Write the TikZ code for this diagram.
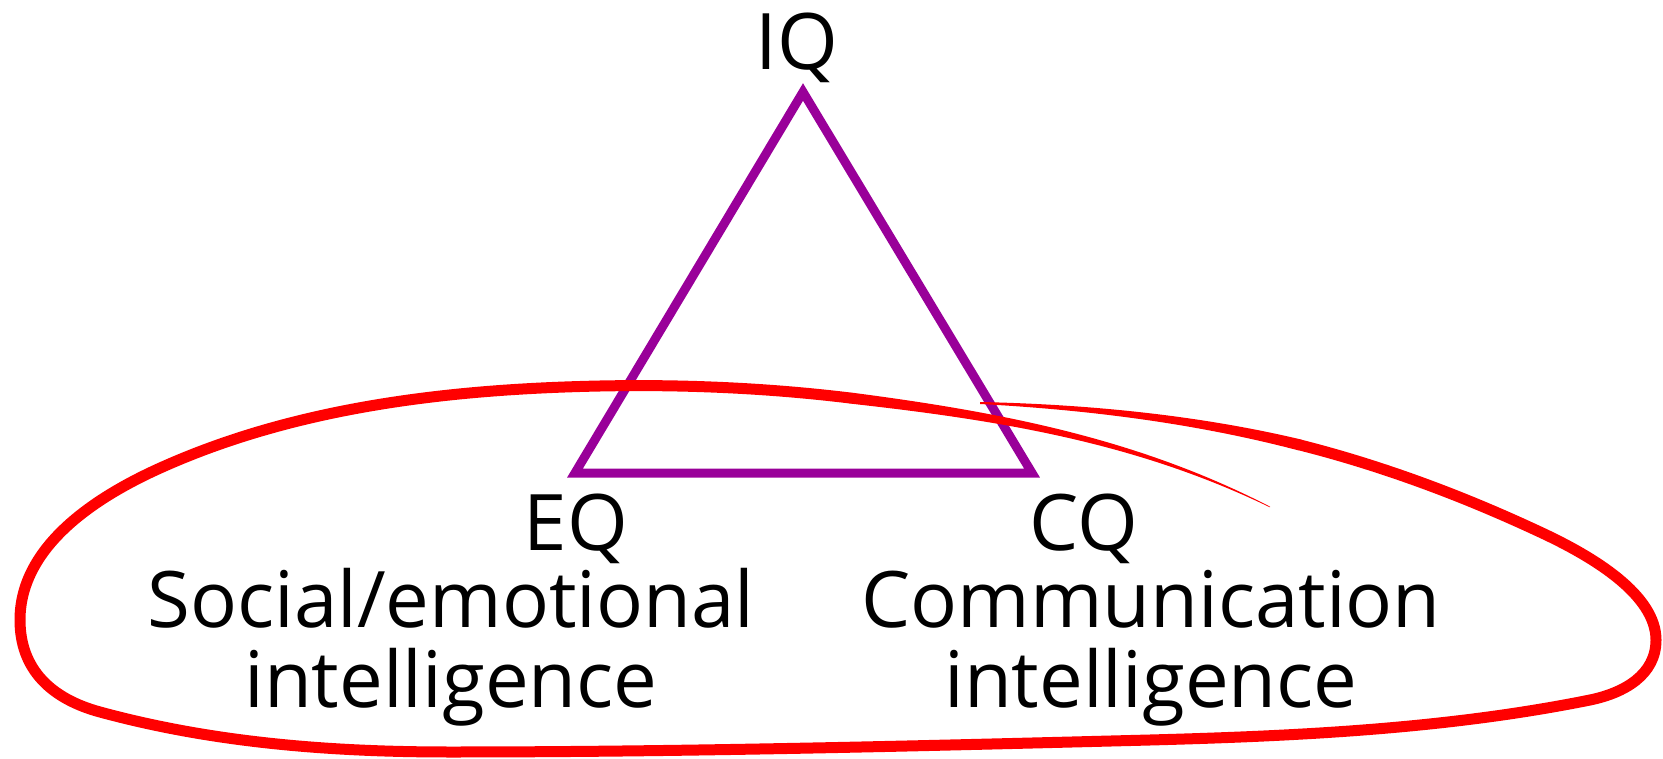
\documentclass[tikz,border=0pt]{standalone}
\usepackage{fontspec}
\setmainfont{Open Sans}
\definecolor{triPurple}{HTML}{990099}
\begin{document}
\begin{tikzpicture}[x=1pt,y=-1pt,
  lbl/.style={font=\fontsize{78}{80}\selectfont, inner sep=0pt, anchor=base, align=center, text=black},
  tri/.style={draw=triPurple, line width=9pt, line join=miter},
  loopline/.style={draw=red, line width=11pt, line cap=round, line join=round},
  taper/.style={fill=red, draw=none}]
\useasboundingbox (0,0) rectangle (1663,759);
% triangle
\coordinate (apex) at (803,92);
\coordinate (bl) at (575,473);
\coordinate (br) at (1032,473);
\draw[tri] (apex) -- (bl) -- (br) -- cycle;
% labels
\node[lbl] (iq) at (797,70) {IQ};
\node[lbl] (eq) at (576,550) {EQ};
\node[lbl] (eqdesc) at (451,707) {Social/emotional\\intelligence};
\node[lbl] (cq) at (1084,550) {CQ};
\node[lbl] (cqdesc) at (1151,707) {Communication\\intelligence};
% red hand-drawn loop: anchor points
\coordinate (A1) at (1300,445);
\coordinate (A2) at (1540,532);
\coordinate (A3) at (1656,640);
\coordinate (A4) at (1590,700);
\coordinate (A5) at (1150,740);
\coordinate (A6) at (450,752);
\coordinate (A7) at (100,712);
\coordinate (A8) at (20,620);
\coordinate (A9) at (167,465);
\coordinate (A10) at (600,386);
\coordinate (A11) at (850,398);
% tapered start stroke
\fill[taper] (980,402) .. controls (1087,404.3) and (1197,414.8) .. (1301.5,439.6)
  -- (1298.5,450.4) .. controls (1195,423.2) and (1087,409.7) .. (980,404) -- cycle;
% main loop
\draw[loopline] (A1) .. controls (1407,472) and (1495,511) .. (A2)
  .. controls (1594,557) and (1656,595) .. (A3)
  .. controls (1656,675) and (1624,693) .. (A4)
  .. controls (1446,729) and (1297,736) .. (A5)
  .. controls (917,746) and (683,752) .. (A6)
  .. controls (332,752) and (214,743) .. (A7)
  .. controls (52,699) and (20,670) .. (A8)
  .. controls (20,545) and (98,495) .. (A9)
  .. controls (301.5,406) and (453,389) .. (A10)
  .. controls (683,384.3) and (768,388) .. (A11);
% tapered end stroke
\fill[taper] (850.7,392.5) .. controls (999.5,411.9) and (1137,438) .. (1270.1,506.7)
  -- (1269.9,507.3) .. controls (1135,442) and (998.5,420.1) .. (849.3,403.5) -- cycle;
\end{tikzpicture}
\end{document}
